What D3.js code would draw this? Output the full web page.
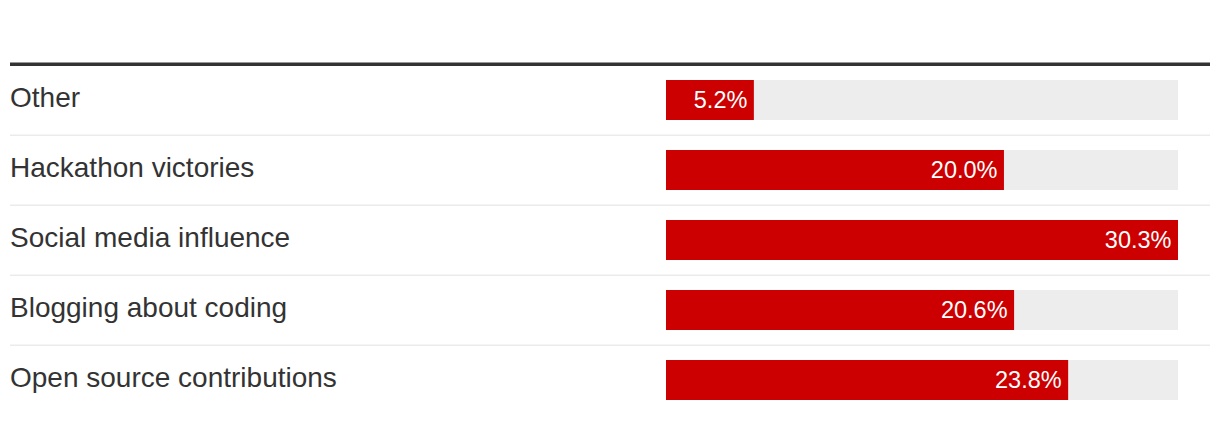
<!DOCTYPE html>
<html>
<head>
<meta charset="utf-8">
<script src="https://cdn.jsdelivr.net/npm/d3@7"></script>
<style>
  html, body { margin: 0; padding: 0; background: #fff; }
  svg { display: block; }
</style>
</head>
<body>
<svg id="chart" width="1220" height="424"></svg>
<script>
const categories = ["Other", "Hackathon victories", "Social media influence", "Blogging about coding", "Open source contributions"];
const values = [5.2, 20.0, 30.3, 20.6, 23.8];
const valueLabels = ["5.2%", "20.0%", "30.3%", "20.6%", "23.8%"];

(function () {
const svg = d3.select("#chart");
const leftX = 10, rightX = 1210, topY = 66, rowH = 70;
const barX0 = 666, barX1 = 1178, barH = 40;

const x = d3.scaleLinear().domain([0, d3.max(values)]).range([barX0, barX1]);
const y = d3.scaleBand().domain(categories).range([topY, topY + rowH * categories.length]).paddingInner(0).paddingOuter(0);

// top rule
svg.append("rect").attr("x", leftX).attr("y", topY - 3.5).attr("width", rightX - leftX).attr("height", 3.5).attr("fill", "#333");

const rows = svg.selectAll("g.row").data(categories).join("g").attr("class", "row")
  .attr("transform", d => `translate(0,${y(d)})`);

// separators
rows.filter((d, i) => i < categories.length - 1)
  .append("rect").attr("x", leftX).attr("y", rowH - 1.5).attr("width", rightX - leftX).attr("height", 1.5).attr("fill", "#ebebeb");

// labels
rows.append("text")
  .attr("x", leftX).attr("y", y.bandwidth() / 2 + 6)
  .attr("font-family", "'Liberation Sans', Arial, Helvetica, sans-serif")
  .attr("font-size", 28).attr("fill", "#333")
  .text(d => d);

const barY = (y.bandwidth() - barH) / 2 - 1;
// background track
rows.append("rect").attr("x", barX0).attr("y", barY).attr("width", barX1 - barX0).attr("height", barH).attr("fill", "#ededed");
// value bar
rows.append("rect").attr("x", barX0).attr("y", barY)
  .attr("width", (d, i) => x(values[i]) - barX0).attr("height", barH).attr("fill", "#cc0000");
// value label
rows.append("text")
  .attr("x", (d, i) => x(values[i]) - 6.5).attr("y", barY + barH / 2 + 8)
  .attr("text-anchor", "end")
  .attr("font-family", "'Liberation Sans', Arial, Helvetica, sans-serif")
  .attr("font-size", 23.5).attr("fill", "#fff")
  .text((d, i) => valueLabels[i]);
})();
</script>
</body>
</html>
